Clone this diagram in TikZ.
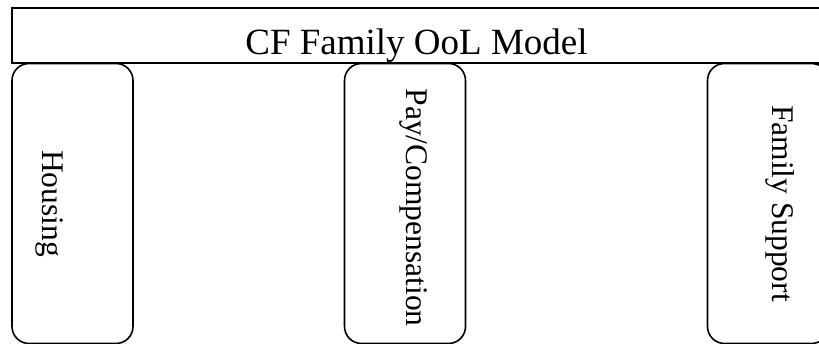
\documentclass[tikz,border=0pt]{standalone}
\usepackage{fontspec}
\setmainfont{Liberation Serif}
\usetikzlibrary{positioning}

\begin{document}
\begin{tikzpicture}[x=1pt, y=-1pt, line width=1.6pt,
	pillar/.style={draw, fill=white, rounded corners=17pt, minimum width=121pt, minimum height=280pt, inner sep=0pt},
	pillartext/.style={rotate=-90, inner sep=0pt, font=\fontsize{31.5}{36}\selectfont}]
	\useasboundingbox (0,0) rectangle (819,344);
	\clip (0,0) rectangle (819,344);
	% model bar
	\node[draw, minimum width=810pt, minimum height=55pt, inner sep=0pt] (model) at (417,35.5) {};
	\node[anchor=base, inner sep=0pt, font=\fontsize{37}{42}\selectfont] (title) at (416.5,54.5) {CF Family OoL Model};
	% pillars
	\node[pillar] (housing) at (72.5,203.5) {};
	\node[pillar] (pay) at (405,203.5) {};
	\node[pillar] (support) at (768,203.5) {};
	\node[pillartext] (housingtext) at (49.5,203.5) {Housing};
	\node[pillartext] (paytext) at (414,207.5) {Pay/Compensation};
	\node[pillartext] (supporttext) at (780,203.5) {Family Support};
\end{tikzpicture}
\end{document}
